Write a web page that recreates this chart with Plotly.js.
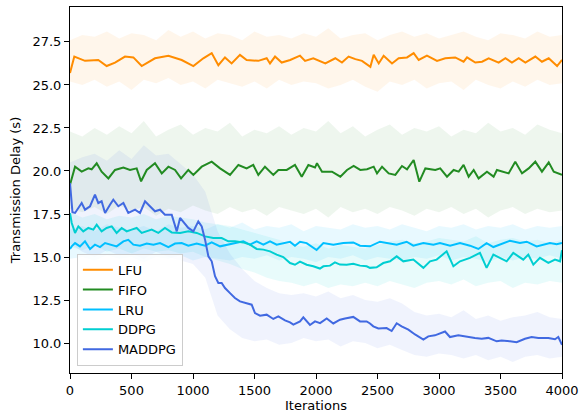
<!DOCTYPE html>
<html>
<head>
<meta charset="utf-8">
<script src="https://cdn.plot.ly/plotly-3.0.1.min.js"></script>
<style>html,body{margin:0;padding:0;background:#fff;}#chart{width:581px;height:420px;}</style>
</head>
<body>
<div id="chart"></div>
<script>
// ---- smoothed curves (iteration, delay) ----
const lfuX = [0,35,122,230,298,366,447,515,583,691,800,908,1003,1084,1152,1206,1260,1314,1382,1436,1531,1599,1626,1667,1721,1790,1870,1911,1978,2076,2157,2211,2265,2320,2374,2442,2469,2510,2550,2618,2672,2740,2794,2835,2902,2984,3051,3132,3200,3228,3295,3350,3404,3485,3540,3593,3648,3702,3783,3837,3892,3960,4000];
const lfuY = [25.7,26.65,26.4,26.45,26.1,26.3,26.65,26.6,26.1,26.55,26.7,26.45,26.1,26.55,26.85,26.15,26.6,26.25,26.75,26.45,26.4,26.55,26.25,26.65,26.3,26.45,26.7,26.4,26.55,26.25,26.55,26.3,26.65,26.5,26.4,26.05,26.75,26.25,26.7,26.25,26.55,26.6,26.85,26.45,26.7,26.4,26.55,26.6,26.35,26.6,26.3,26.35,26.55,26.3,26.55,26.3,26.55,26.3,26.65,26.35,26.55,26.1,26.45];

const fifoX = [0,41,95,149,176,217,257,312,366,434,488,542,578,624,691,746,800,854,903,962,1003,1071,1152,1220,1301,1369,1436,1490,1531,1585,1653,1694,1762,1829,1884,1938,1992,2008,2049,2130,2198,2252,2306,2360,2415,2469,2496,2537,2591,2645,2699,2740,2794,2840,2889,2970,3010,3065,3119,3160,3200,3241,3282,3322,3390,3444,3471,3526,3566,3620,3675,3729,3783,3837,3892,3933,4000];
const fifoY = [19.2,20.25,19.96,20.15,20.1,20.45,19.96,19.57,20.06,20.2,20.06,20.15,19.4,20.06,20.45,19.86,20.25,20.06,19.57,20.06,19.77,20.25,20.54,20.15,19.77,20.35,20.15,20.35,19.77,20.25,19.77,20.06,20.06,20.35,19.67,20.35,20.2,20.45,19.96,19.96,19.67,20.06,20.29,20.06,20.1,20.25,19.86,20.25,19.86,19.77,20.29,20.1,20.64,19.38,20.15,20.06,20.15,19.67,20.06,19.96,20.35,19.67,20.06,19.57,19.96,19.67,20.06,19.96,19.86,20.54,19.86,20.15,20.54,19.96,20.5,19.96,19.77];

const lruX = [0,14,41,81,122,163,203,244,285,339,379,434,474,515,569,624,678,732,800,854,908,962,1030,1098,1152,1220,1287,1341,1409,1463,1518,1572,1626,1680,1734,1789,1829,1870,1924,2005,2060,2141,2222,2303,2358,2439,2520,2602,2656,2737,2791,2873,2954,3008,3090,3171,3252,3320,3387,3442,3523,3577,3658,3713,3794,3848,3902,3957,4000];
const lruY = [15.47,15.62,15.81,15.62,15.91,15.47,15.72,15.58,15.81,15.72,15.62,15.91,16.0,15.72,15.66,15.78,15.72,15.81,15.58,15.78,15.81,15.66,15.78,15.66,15.85,15.62,15.72,15.8,15.91,15.72,15.91,15.72,15.91,15.72,15.81,15.88,15.66,15.89,15.81,15.41,15.81,15.72,15.81,15.85,15.66,15.62,15.89,15.81,15.72,15.89,15.66,15.81,15.72,15.81,15.66,15.81,15.66,15.47,15.81,15.58,15.81,15.95,15.81,15.89,15.62,15.72,15.81,15.75,15.81];

const ddpgX = [0,14,41,68,108,149,190,217,257,298,339,379,420,461,501,542,583,624,664,718,772,827,895,962,1030,1098,1165,1233,1287,1341,1409,1463,1518,1572,1626,1680,1734,1789,1829,1870,1924,1978,2032,2060,2114,2154,2195,2249,2303,2358,2412,2439,2493,2547,2602,2656,2710,2791,2873,2927,2981,3062,3117,3171,3252,3333,3387,3442,3496,3550,3604,3685,3726,3767,3821,3889,3943,3984,4000];
const ddpgY = [17.55,16.98,16.4,16.78,16.49,16.69,16.59,16.88,16.49,16.69,16.78,16.4,16.69,16.49,16.59,16.69,16.4,16.49,16.59,16.4,16.69,16.43,16.4,16.49,16.4,16.2,16.1,16.1,15.91,15.91,15.85,15.72,15.47,15.43,15.33,15.14,15.0,14.65,14.55,14.73,14.55,14.46,14.33,14.46,14.5,14.69,14.56,14.55,14.61,14.5,14.46,14.37,14.4,14.65,14.75,15.04,14.75,14.85,14.37,14.75,14.85,15.33,14.46,14.75,14.95,15.24,14.37,15.14,14.95,14.75,15.24,14.85,15.14,14.56,14.95,14.66,14.85,14.75,15.4];

const maddpgX = [0,20,41,68,95,122,163,203,230,257,285,325,352,393,434,474,529,569,610,650,691,732,772,827,868,895,935,962,1003,1043,1071,1098,1125,1152,1179,1206,1233,1260,1301,1341,1382,1436,1477,1504,1545,1599,1653,1694,1748,1789,1816,1870,1897,1951,1992,2033,2087,2141,2195,2236,2303,2358,2412,2439,2466,2507,2574,2615,2656,2696,2751,2805,2873,2913,2967,3049,3089,3157,3225,3292,3347,3401,3469,3509,3577,3631,3699,3753,3808,3889,3943,3970,4000];
const maddpgY = [19.3,17.6,17.56,17.85,18.14,17.75,17.95,18.62,18.14,18.24,17.56,18.04,18.33,17.95,18.14,17.56,17.75,17.56,18.24,17.95,17.66,17.75,17.46,17.46,16.49,17.27,16.88,16.69,16.49,17.07,16.78,16.01,15.04,14.75,13.88,13.49,13.49,13.2,12.9,12.62,12.42,12.33,12.23,11.74,11.59,11.65,11.4,11.55,11.32,11.2,11.07,11.26,11.5,11.05,11.26,11.16,11.43,11.14,11.36,11.43,11.52,11.26,11.26,11.14,10.97,10.85,10.87,10.7,11.15,10.97,10.78,10.5,10.2,10.39,10.45,10.67,10.35,10.45,10.35,10.29,10.25,10.3,10.1,10.15,10.1,10.05,10.25,10.35,10.3,10.3,10.22,10.35,9.9];

// ---- raw-data spread (lower / upper envelope every 100 iterations) ----
const bandX = [0,100,200,300,400,500,600,700,800,900,1000,1100,1200,1300,1400,1500,1600,1700,1800,1900,2000,2100,2200,2300,2400,2500,2600,2700,2800,2900,3000,3100,3200,3300,3400,3500,3600,3700,3800,3900,4000];
const lfuLo = [25.2,25.0,25.3,24.9,25.2,24.7,25.3,25.1,25.4,25.0,25.2,24.8,25.3,25.1,24.9,25.2,24.8,25.3,25.0,25.2,25.1,24.8,25.0,25.3,24.9,24.6,25.2,25.0,25.3,24.8,25.1,25.2,24.7,25.3,25.0,24.8,25.2,24.9,25.3,25.0,25.1];
const lfuHi = [27.6,27.9,27.8,28.1,27.7,28.0,27.9,27.6,28.2,27.8,28.1,27.7,28.0,27.9,27.6,28.1,27.8,27.9,27.7,28.0,27.8,28.3,27.7,27.9,28.0,27.6,27.9,28.1,27.8,28.0,27.7,27.9,28.1,27.8,27.6,28.0,27.9,27.7,28.1,27.8,27.9];
const fifoLo = [17.8,17.6,17.9,17.5,18.0,17.7,17.9,17.4,17.8,17.6,18.0,17.7,17.5,17.9,17.6,17.8,17.4,17.9,17.7,17.5,17.8,17.3,17.9,17.6,17.8,17.5,17.9,17.7,17.4,17.8,17.6,17.9,17.5,17.8,17.3,17.7,17.9,17.5,17.8,17.6,17.7];
const fifoHi = [22.3,22.0,22.5,22.1,22.6,22.2,22.9,22.0,22.4,22.7,22.1,22.5,22.3,22.8,22.0,22.4,22.2,22.6,22.1,22.5,22.3,22.9,22.2,22.6,22.0,22.4,22.7,22.1,22.5,22.3,22.6,22.0,22.4,22.2,22.8,22.3,22.5,22.1,22.7,22.4,22.2];
const lruLo = [14.9,15.0,14.8,15.1,14.9,15.0,14.7,15.0,14.9,15.1,14.8,15.0,14.9,14.8,15.0,14.9,15.1,14.8,15.0,14.9,14.7,15.0,14.9,15.1,14.8,15.0,14.9,14.8,15.0,14.9,15.1,14.8,15.0,14.9,14.7,15.0,14.8,15.0,14.9,15.1,14.9];
const lruHi = [16.6,16.8,16.5,16.9,16.7,16.6,16.8,16.5,16.9,16.7,16.8,16.6,16.9,16.7,17.0,16.6,16.8,16.7,16.9,16.5,16.8,16.7,16.6,16.9,16.7,16.8,16.6,16.9,16.7,16.5,16.8,16.7,16.9,16.6,16.8,16.7,16.9,16.6,16.8,16.7,16.8];
const ddpgLo = [15.6,15.4,15.7,15.3,15.5,15.2,15.5,15.3,15.4,15.2,15.3,15.0,14.8,14.6,14.3,14.1,13.8,13.6,13.5,13.3,13.5,13.2,13.4,13.3,13.5,13.3,13.6,13.4,13.2,13.5,13.6,13.4,13.7,13.3,13.5,13.6,13.2,13.5,13.4,13.6,13.5];
const ddpgHi = [17.6,17.3,17.5,17.2,17.4,17.3,17.5,17.2,17.4,17.3,17.2,17.0,16.9,16.8,16.6,16.4,16.2,16.0,15.7,15.6,15.8,15.5,15.7,15.6,15.5,15.7,15.9,16.0,15.8,15.9,16.1,16.0,15.9,16.2,15.8,16.0,16.1,15.9,16.0,15.8,16.0];
const maddpgLo = [15.8,15.3,15.0,15.4,15.1,15.2,14.9,15.3,15.0,14.8,14.6,13.8,11.6,10.8,10.3,10.1,10.2,9.9,10.0,10.3,10.1,10.2,9.8,10.1,10.0,9.7,9.9,9.6,9.3,9.2,9.4,9.3,9.1,9.3,9.0,9.2,8.9,9.2,9.3,9.1,9.2];
const maddpgHi = [20.5,20.8,21.0,20.6,21.2,20.7,21.5,20.9,21.0,20.4,19.8,18.8,16.5,15.2,14.3,13.6,13.2,12.9,12.8,12.9,12.7,13.0,12.6,12.8,12.5,12.4,12.6,12.3,11.8,11.6,11.7,11.5,11.9,11.4,11.6,11.3,11.5,11.6,11.8,11.5,11.4];

const names = ['LFU','FIFO','LRU','DDPG','MADDPG'];
const colors = ['#ff8c00','#228b22','#00bfff','#00ced1','#4169e1'];
const fills = ['rgba(255,140,0,0.08)','rgba(34,139,34,0.08)','rgba(0,191,255,0.09)','rgba(0,206,209,0.09)','rgba(65,105,225,0.08)'];

const smooth = [[lfuX,lfuY],[fifoX,fifoY],[lruX,lruY],[ddpgX,ddpgY],[maddpgX,maddpgY]];
const bands = [[lfuLo,lfuHi],[fifoLo,fifoHi],[lruLo,lruHi],[ddpgLo,ddpgHi],[maddpgLo,maddpgHi]];

const traces = [];
bands.forEach((b,i)=>{
  traces.push({x:bandX,y:b[0],mode:'lines',line:{width:0,color:fills[i]},showlegend:false,hoverinfo:'skip'});
  traces.push({x:bandX,y:b[1],mode:'lines',line:{width:0,color:fills[i]},fill:'tonexty',fillcolor:fills[i],showlegend:false,hoverinfo:'skip'});
});
smooth.forEach((s,i)=>{
  traces.push({x:s[0],y:s[1],mode:'lines',name:names[i],line:{color:colors[i],width:2}});
});

const font = {family:'DejaVu Sans, sans-serif',size:13,color:'#000'};
const layout = {
  width:581,height:420,
  margin:{l:70,r:19,t:7,b:47},
  paper_bgcolor:'#fff',plot_bgcolor:'#fff',
  font:font,
  xaxis:{range:[0,4000],tickvals:[0,500,1000,1500,2000,2500,3000,3500,4000],
    showgrid:false,zeroline:false,showline:true,mirror:true,linecolor:'#000',linewidth:1,
    ticks:'outside',ticklen:5,tickwidth:1,tickcolor:'#000',tickfont:font,
    title:{text:'Iterations',font:font,standoff:4}},
  yaxis:{range:[8.26,29.53],tickvals:[10,12.5,15,17.5,20,22.5,25,27.5],tickformat:'.1f',
    showgrid:false,zeroline:false,showline:true,mirror:true,linecolor:'#000',linewidth:1,
    ticks:'outside',ticklen:5,tickwidth:1,tickcolor:'#000',tickfont:font,
    title:{text:'Transmission Delay (s)',font:font,standoff:8}},
  legend:{x:0.014,y:0.02,xanchor:'left',yanchor:'bottom',bgcolor:'rgba(255,255,255,0.8)',
    bordercolor:'#cccccc',borderwidth:1,font:font,traceorder:'normal',tracegroupgap:0},
  showlegend:true
};
Plotly.newPlot('chart',traces,layout,{displayModeBar:false,staticPlot:true});
</script>
</body>
</html>
